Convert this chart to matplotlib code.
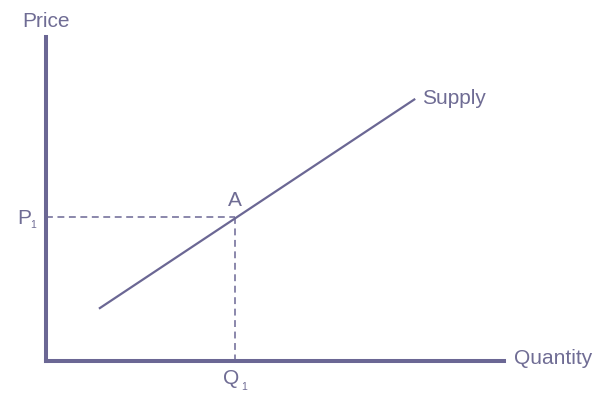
import matplotlib
matplotlib.use("Agg")
import matplotlib.pyplot as plt

plt.rcParams['font.family'] = ['Liberation Sans', 'DejaVu Sans']

# Data (abstract units, axis from 0 to 10)
supply_q = [1.15, 8.06]
supply_p = [1.60, 8.08]
q1 = 4.13
p1 = 4.42

line_color = '#6b6794'
text_color = '#6f6c94'

W, H = 595, 393
fig = plt.figure(figsize=(W / 100, H / 100), dpi=100)
ox, oy = 46.3, 360.5
right, top = 504.0, 36.7
ax = fig.add_axes([ox / W, (H - oy) / H, (right - ox) / W, (oy - top) / H])
ax.set_xlim(0, 10)
ax.set_ylim(0, 10)
ax.set_xticks([])
ax.set_yticks([])
ax.patch.set_visible(False)
for s in ['top', 'right']:
    ax.spines[s].set_visible(False)
for s in ['left', 'bottom']:
    ax.spines[s].set_color(line_color)
    ax.spines[s].set_linewidth(2.9)

# Supply curve
ax.plot(supply_q, supply_p, color=line_color, lw=1.6, solid_capstyle='butt', clip_on=False)

# Dashed guides
ax.plot([0, q1], [p1, p1], color=line_color, lw=1.1, linestyle=(0, (4.5, 3)), clip_on=False)
ax.plot([q1, q1], [p1, 0], color=line_color, lw=1.1, linestyle=(0, (4.5, 3)), clip_on=False)

def ftext(x, y, s, size=15, ha='left'):
    fig.text(x / W, 1 - y / H, s, fontsize=size, color=text_color, ha=ha, va='baseline')

ftext(46.5, 26.7, 'Price', ha='center')
ftext(422, 104, 'Supply')
ftext(514, 363.5, 'Quantity')
ftext(235, 205.7, 'A', ha='center')
ftext(17, 224.5, 'P')
ftext(30.5, 228.5, '1', size=7.5)
ftext(223.5, 383.5, 'Q')
ftext(241, 390, '1', size=7.5)

fig.savefig('out.png', dpi=100)
